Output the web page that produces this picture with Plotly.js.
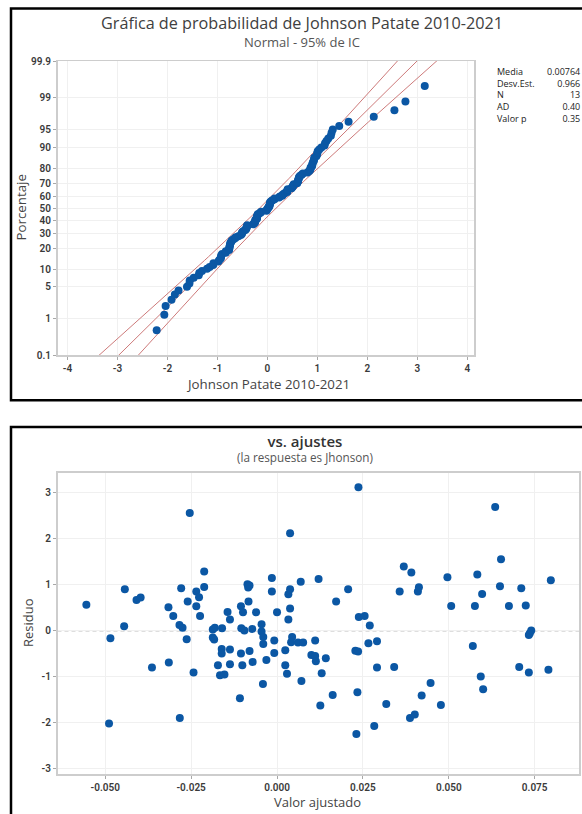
<!DOCTYPE html>
<html>
<head>
<meta charset="utf-8">
<script src="https://cdn.plot.ly/plotly-3.0.1.min.js"></script>
<style>
  html, body { margin: 0; padding: 0; background: #ffffff; }
  #chart { width: 582px; height: 814px; }
</style>
</head>
<body>
<div id="chart"></div>
<script>
// ---------------- DATA ----------------
// Probability plot: Johnson-transformed values (sorted)
const johnsonValues = [-2.216,-2.063,-2.037,-1.919,-1.852,-1.779,-1.610,-1.561,-1.555,-1.475,-1.375,-1.364,-1.310,-1.208,-1.156,-1.085,-1.080,-0.981,-0.964,-0.934,-0.930,-0.925,-0.907,-0.833,-0.833,-0.768,-0.763,-0.762,-0.756,-0.749,-0.744,-0.739,-0.720,-0.713,-0.681,-0.648,-0.633,-0.580,-0.532,-0.512,-0.509,-0.504,-0.479,-0.443,-0.425,-0.420,-0.418,-0.407,-0.405,-0.287,-0.269,-0.248,-0.246,-0.242,-0.241,-0.211,-0.208,-0.207,-0.206,-0.199,-0.196,-0.164,-0.134,-0.126,-0.019,-0.014,-0.003,0.010,0.023,0.036,0.042,0.045,0.048,0.054,0.057,0.081,0.102,0.141,0.143,0.232,0.249,0.296,0.304,0.328,0.352,0.396,0.399,0.400,0.406,0.482,0.494,0.513,0.516,0.526,0.594,0.601,0.611,0.612,0.623,0.630,0.633,0.655,0.685,0.709,0.800,0.832,0.854,0.862,0.864,0.891,0.896,0.900,0.910,0.927,0.934,0.936,0.978,0.990,0.999,1.005,1.036,1.079,1.142,1.151,1.181,1.217,1.269,1.283,1.307,1.436,1.623,2.127,2.540,2.760,3.147];

// Summary statistics shown in the table (as visible in the reference)
const statMean = 0.00764;
const statSd = 0.966;
const statN = johnsonValues.length;
const statLabels = ["Media", "Desv.Est.", "N", "AD", "Valor p"];
const statTexts  = ["0.00764", "0.966", "13", "0.40", "0.35"];

// Probability axis ticks (percent)
const pctTicks  = [0.1, 1, 5, 10, 20, 30, 40, 50, 60, 70, 80, 90, 95, 99, 99.9];
const pctLabels = ["0.1","1","5","10","20","30","40","50","60","70","80","90","95","99","99.9"];
const probXTicks = [-4,-3,-2,-1,0,1,2,3,4];
const probXLabels = ["-4","-3","-2","-1","0","1","2","3","4"];

// Residuals vs fits
const fittedValues = [-0.0555,-0.0443,-0.0409,-0.0397,-0.0316,-0.0279,-0.0260,-0.0254,-0.0235,-0.0235,-0.0227,-0.0212,-0.0212,-0.0105,-0.0086,-0.0084,-0.0080,-0.0083,-0.0015,-0.0015,0.0033,0.0038,0.0038,0.0038,0.0069,0.0121,0.0172,0.0207,0.0237,0.0357,0.0369,0.0391,0.0410,0.0413,0.0496,0.0507,0.0576,0.0583,0.0597,0.0635,0.0652,0.0649,0.0675,0.0711,0.0724,0.0797,
-0.0445,-0.0485,-0.0489,-0.0364,-0.0315,-0.0302,-0.0284,-0.0275,-0.0283,-0.0263,-0.0243,-0.0224,-0.0187,-0.0181,-0.0187,-0.0183,-0.0160,-0.0172,-0.0166,-0.0153,-0.0161,-0.0161,-0.0144,-0.0137,-0.0137,-0.0137,-0.0108,-0.0104,-0.0099,-0.0095,-0.0105,-0.0101,-0.0080,-0.0072,-0.0071,-0.0061,-0.0045,-0.0045,-0.0040,-0.0040,-0.0041,-0.0031,-0.0008,0.0000,-0.0008,0.0024,0.0024,0.0029,0.0033,0.0044,0.0041,0.0061,0.0076,0.0071,0.0100,0.0111,0.0111,0.0113,0.0126,0.0130,0.0142,0.0162,0.0228,0.0236,0.0234,0.0231,0.0238,0.0255,0.0270,0.0266,0.0291,0.0291,0.0283,0.0318,0.0341,0.0387,0.0401,0.0421,0.0447,0.0477,0.0570,0.0593,0.0600,0.0705,0.0733,0.0736,0.0740,0.0733,0.0790];
const residualValues = [0.572,0.906,0.674,0.725,0.514,0.928,0.638,2.565,0.855,0.536,0.732,1.29,0.957,0.536,1.014,0.942,0.986,0.638,1.152,0.855,0.797,0.906,2.123,0.49,1.072,1.13,0.638,0.906,3.123,0.855,1.399,1.268,0.855,0.949,1.167,0.543,0.543,1.225,0.804,2.696,1.558,0.971,0.543,0.928,0.551,1.101,
0.101,-0.159,-2.014,-0.797,-0.688,0.326,0.130,0.072,-1.891,-0.181,-0.906,0.326,0.029,0.072,-0.145,-0.188,0.058,-0.746,-0.964,-0.949,-0.391,-0.493,0.413,0.246,-0.406,-0.725,-1.464,0.058,0.406,0.007,-0.493,-0.746,-0.435,0.043,-0.674,0.406,0.145,-0.014,-0.130,-0.283,-1.152,-0.630,-0.210,0.406,-0.478,-0.420,-0.746,-0.928,0.246,-0.130,-0.246,-0.254,-0.254,-1.087,-0.522,-0.210,-0.543,-0.659,-1.623,-0.920,-0.594,-1.391,-0.428,-0.449,-1.333,-2.239,0.304,0.326,0.116,-0.268,-0.225,-0.797,-2.065,-1.587,-0.783,-1.891,-1.819,-1.406,-1.130,-1.609,-0.326,-0.993,-1.268,-0.783,-0.087,-0.051,0.007,-0.906,-0.841];
const fitXTicks = [-0.05,-0.025,0,0.025,0.05,0.075];
const fitXLabels = ["-0.050","-0.025","0.000","0.025","0.050","0.075"];
const resYTicks = [-3,-2,-1,0,1,2,3];
const resYLabels = ["-3","-2","-1","0","1","2","3"];

// ---------------- HELPERS ----------------
// Inverse standard normal CDF (Acklam) for the probability-scale axis
function qnorm(p) {
  const a=[-3.969683028665376e+01,2.209460984245205e+02,-2.759285104469687e+02,1.383577518672690e+02,-3.066479806614716e+01,2.506628277459239e+00];
  const b=[-5.447609879822406e+01,1.615858368580409e+02,-1.556989798598866e+02,6.680131188771972e+01,-1.328068155288572e+01];
  const c=[-7.784894002430293e-03,-3.223964580411365e-01,-2.400758277161838e+00,-2.549732539343734e+00,4.374664141464968e+00,2.938163982698783e+00];
  const d=[7.784695709041462e-03,3.224671290700398e-01,2.445134137142996e+00,3.754408661907416e+00];
  const pl=0.02425, ph=1-pl; let q,r;
  if (p<pl){ q=Math.sqrt(-2*Math.log(p)); return (((((c[0]*q+c[1])*q+c[2])*q+c[3])*q+c[4])*q+c[5])/((((d[0]*q+d[1])*q+d[2])*q+d[3])*q+1); }
  if (p<=ph){ q=p-0.5; r=q*q; return (((((a[0]*r+a[1])*r+a[2])*r+a[3])*r+a[4])*r+a[5])*q/(((((b[0]*r+b[1])*r+b[2])*r+b[3])*r+b[4])*r+1); }
  q=Math.sqrt(-2*Math.log(1-p)); return -(((((c[0]*q+c[1])*q+c[2])*q+c[3])*q+c[4])*q+c[5])/((((d[0]*q+d[1])*q+d[2])*q+d[3])*q+1);
}

const W = 582, H = 814;
const fx = v => v / W;
const fy = v => 1 - v / H;
const FONT = "Open Sans, Noto Sans, sans-serif";
const TICKFONT = "Roboto, Liberation Sans, sans-serif";

// plotting positions (median ranks) for the probability plot
const nPts = johnsonValues.length;
const probZ = johnsonValues.map((v, i) => qnorm((i + 1 - 0.3) / (nPts + 0.4)));

// fitted line and 95% confidence band
const zMax = qnorm(0.999);
const zGrid = [];
for (let k = 0; k <= 80; k++) zGrid.push(-zMax - 0.05 + (2 * zMax + 0.1) * k / 80);
const fitLine = zGrid.map(z => statMean + statSd * z);
const ciHalf = zGrid.map(z => 1.96 * statSd * Math.sqrt((1 + z * z / 2) / statN));
const ciLow = fitLine.map((v, i) => v - ciHalf[i]);
const ciHigh = fitLine.map((v, i) => v + ciHalf[i]);

const RED = "#cd7a7a";
const BLUE = "#0b57a4";

const traces = [
  {x: ciLow, y: zGrid, xaxis: "x", yaxis: "y", mode: "lines", line: {color: RED, width: 1}, hoverinfo: "skip"},
  {x: fitLine, y: zGrid, xaxis: "x", yaxis: "y", mode: "lines", line: {color: RED, width: 1}, hoverinfo: "skip"},
  {x: ciHigh, y: zGrid, xaxis: "x", yaxis: "y", mode: "lines", line: {color: RED, width: 1}, hoverinfo: "skip"},
  {x: johnsonValues, y: probZ, xaxis: "x", yaxis: "y", mode: "markers",
   marker: {color: BLUE, size: 8, line: {width: 0}}},
  {x: fittedValues, y: residualValues, xaxis: "x2", yaxis: "y2", mode: "markers",
   marker: {color: BLUE, size: 8, line: {width: 0}}}
];

const tickFont = {family: TICKFONT, size: 10, color: "#3a3a3a", weight: 600};
const axisCommon = {
  ticks: "outside", ticklen: 3, tickcolor: "#a8a8a8", tickwidth: 1,
  showgrid: true, gridcolor: "#f0f0f0", gridwidth: 1,
  zeroline: false, showline: true, mirror: true, linecolor: "#cdcdcd", linewidth: 1.5,
  tickfont: tickFont, fixedrange: true
};

const ann = [];
function addText(text, x, y, size, color, opts) {
  ann.push(Object.assign({
    text: text, xref: "paper", yref: "paper", x: fx(x), y: fy(y),
    xanchor: "center", yanchor: "middle", showarrow: false,
    font: {family: FONT, size: size, color: color}
  }, opts || {}));
}
// titles: title + subtitle in one block each
addText('<span style="font-size:16.2px;fill:#404040">Gráfica de probabilidad de Johnson Patate 2010-2021</span><br><span style="font-size:13px">Normal - 95% de IC</span>',
        301.7, 31.3, 13.6, "#555555", {borderpad: 0});
addText('<span style="font-size:15px;font-weight:600;fill:#333333">vs. ajustes</span><br>(la respuesta es Jhonson)',
        304.5, 448, 11.7, "#555555", {borderpad: 0});
addText("Johnson Patate 2010-2021", 268, 384, 13.3, "#444444");
addText("Porcentaje", 20.5, 208, 13.3, "#444444", {textangle: -90});
addText("Valor ajustado", 318, 802, 13, "#444444");
addText("Residuo", 28, 623, 13, "#444444", {textangle: -90});

// stats table: one block for labels, one for values (line spacing 1.3 em)
addText(statLabels.join("<br>"), 495.5, 95, 9, "#222222", {xanchor: "left", align: "left", borderpad: 0});
addText(statTexts.join("<br>"), 581, 95, 9, "#222222", {xanchor: "right", align: "right", borderpad: 0});

const layout = {
  width: W, height: H,
  margin: {l: 0, r: 0, t: 0, b: 0, pad: 0},
  paper_bgcolor: "#ffffff", plot_bgcolor: "#ffffff",
  showlegend: false, hovermode: false,
  font: {family: FONT},
  xaxis: Object.assign({}, axisCommon, {
    domain: [fx(57.5), fx(474.4)], range: [-4.2, 4.14], anchor: "y",
    tickmode: "array", tickvals: probXTicks, ticktext: probXLabels
  }),
  yaxis: Object.assign({}, axisCommon, {
    domain: [fy(355.3), fy(61)], range: [-zMax, zMax], anchor: "x",
    tickmode: "array", tickvals: pctTicks.map(p => qnorm(p / 100)), ticktext: pctLabels
  }),
  xaxis2: Object.assign({}, axisCommon, {
    domain: [fx(57.5), fx(579)], range: [-0.0639, 0.0879], anchor: "y2",
    tickmode: "array", tickvals: fitXTicks, ticktext: fitXLabels
  }),
  yaxis2: Object.assign({}, axisCommon, {
    domain: [fy(774), fy(472.7)], range: [-3.11, 3.44], anchor: "x2",
    tickmode: "array", tickvals: resYTicks, ticktext: resYLabels
  }),
  annotations: ann,
  shapes: [
    {type: "rect", xref: "paper", yref: "paper", x0: fx(11), x1: 1.05, y0: fy(400.3), y1: fy(8.5),
     line: {color: "#000000", width: 2.5}, fillcolor: "rgba(0,0,0,0)", layer: "above"},
    {type: "rect", xref: "paper", yref: "paper", x0: fx(11), x1: 1.05, y0: -0.05, y1: fy(427),
     line: {color: "#000000", width: 2.5}, fillcolor: "rgba(0,0,0,0)", layer: "above"},
    {type: "line", xref: "x2 domain", yref: "y2", x0: 0, x1: 1, y0: 0, y1: 0,
     line: {color: "#b4b4b4", width: 1, dash: "4px,3px"}, layer: "below"}
  ]
};

Plotly.newPlot("chart", traces, layout, {displayModeBar: false, staticPlot: true});
</script>
</body>
</html>
